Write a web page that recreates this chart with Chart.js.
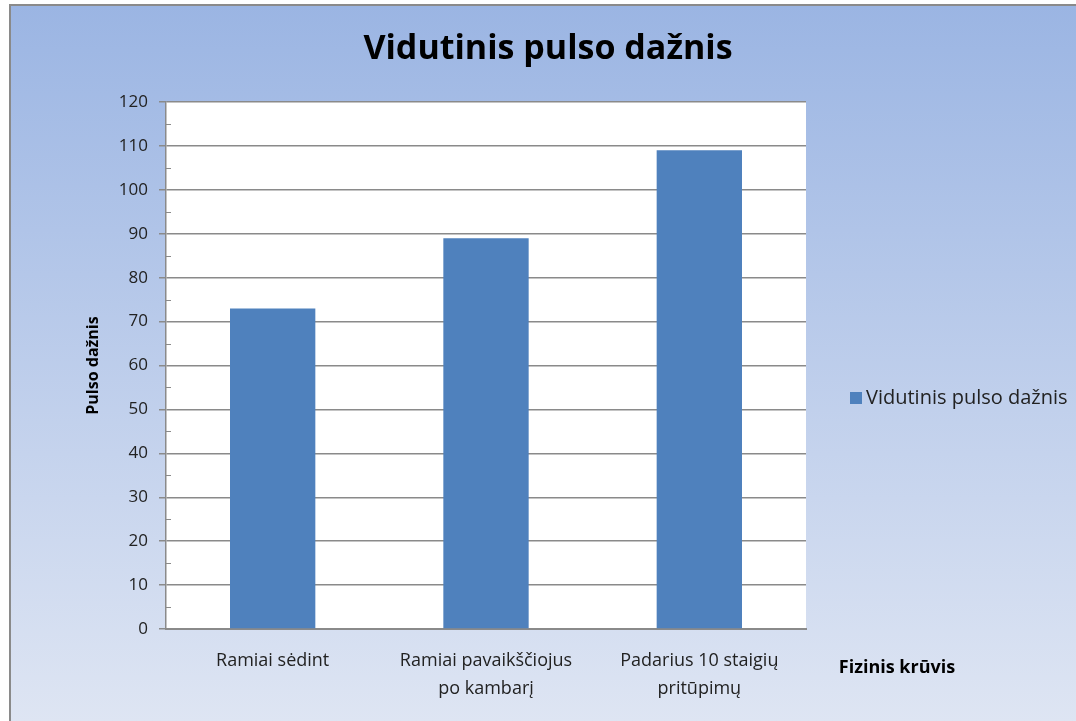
<!DOCTYPE html>
<html>
<head>
<meta charset="utf-8">
<script src="https://cdn.jsdelivr.net/npm/chart.js@4.4.1/dist/chart.umd.min.js"></script>
<style>
  html, body { margin: 0; padding: 0; background: #fff; }
  #wrap { width: 1076px; height: 721px; position: relative; }
</style>
</head>
<body>
<div id="wrap"><canvas id="pulseChart" width="1076" height="721"></canvas></div>
<script>
const chartTitle = 'Vidutinis pulso dažnis';
const seriesName = 'Vidutinis pulso dažnis';
const categories = [
    'Ramiai sėdint',
    ['Ramiai pavaikščiojus', 'po kambarį'],
    ['Padarius 10 staigių', 'pritūpimų']
];
const pulseValues = [73, 89, 109];
const yTitle = 'Pulso dažnis';
const xTitle = 'Fizinis krūvis';
const yMin = 0, yMax = 120, yMajor = 10, yMinor = 5;

const FONT = '"Open Sans", Lato, sans-serif';
const barColor = '#4f81bd';
const lineColor = '#8a8a8a';

// background frame, title, minor ticks, x title, legend
const decor = {
    id: 'decor',
    beforeDraw(chart) {
        const ctx = chart.ctx;
        const w = chart.width, h = chart.height;
        ctx.save();
        ctx.fillStyle = '#fff';
        ctx.fillRect(0, 0, w, h);
        const g = ctx.createLinearGradient(0, 6, 0, h);
        g.addColorStop(0, '#9bb5e3');
        g.addColorStop(1, '#dee5f3');
        ctx.fillStyle = g;
        ctx.fillRect(11, 6, w - 11, h - 6);
        ctx.strokeStyle = '#8a8a8a';
        ctx.lineWidth = 2;
        ctx.beginPath();
        ctx.moveTo(10, h);
        ctx.lineTo(10, 5);
        ctx.lineTo(w, 5);
        ctx.stroke();
        const a = chart.chartArea;
        ctx.fillStyle = '#fff';
        ctx.fillRect(a.left, a.top, a.right - a.left, a.bottom - a.top);
        ctx.restore();
    },
    afterDraw(chart) {
        const ctx = chart.ctx;
        const a = chart.chartArea;
        const y = chart.scales.y;
        ctx.save();
        // minor ticks, inside the plot
        ctx.strokeStyle = lineColor;
        ctx.lineWidth = 1;
        for (let v = yMin + yMinor; v < yMax; v += yMajor) {
            const py = Math.round(y.getPixelForValue(v)) + 0.5;
            ctx.beginPath();
            ctx.moveTo(a.left, py);
            ctx.lineTo(a.left + 5, py);
            ctx.stroke();
        }
        // title
        ctx.fillStyle = '#000';
        ctx.textAlign = 'center';
        ctx.textBaseline = 'middle';
        ctx.font = 'bold 34px ' + FONT;
        ctx.fillText(chartTitle, 548, 49);
        // x axis title
        ctx.font = 'bold 18px ' + FONT;
        ctx.fillText(xTitle, 897, 668);
        // legend
        const ds = chart.data.datasets[0];
        ctx.fillStyle = ds.backgroundColor;
        ctx.fillRect(850, 392, 12, 12);
        ctx.fillStyle = '#222';
        ctx.textAlign = 'left';
        ctx.font = '20px ' + FONT;
        ctx.fillText(ds.label, 866, 398);
        ctx.restore();
    }
};

new Chart(document.getElementById('pulseChart'), {
    type: 'bar',
    data: {
        labels: categories,
        datasets: [{
            label: seriesName,
            data: pulseValues,
            backgroundColor: barColor,
            borderWidth: 0,
            barPercentage: 0.4,
            categoryPercentage: 1
        }]
    },
    options: {
        responsive: false,
        animation: false,
        layout: { padding: { left: 78, top: 102, right: 270, bottom: 0 } },
        plugins: {
            legend: { display: false },
            title: { display: false },
            tooltip: { enabled: false }
        },
        scales: {
            y: {
                min: yMin,
                max: yMax,
                afterFit: s => { s.width = 88; },
                ticks: {
                    stepSize: yMinor,
                    color: '#222',
                    font: { family: FONT, size: 17 },
                    padding: 11,
                    callback: v => (v % yMajor === 0 ? v : '')
                },
                grid: {
                    color: c => (c.tick && c.tick.value % yMajor === 0 ? lineColor : 'rgba(0,0,0,0)'),
                    tickColor: c => (c.tick && c.tick.value % yMajor === 0 ? lineColor : 'rgba(0,0,0,0)'),
                    lineWidth: 1.5,
                    tickLength: 7
                },
                border: { color: lineColor, width: 1.5 },
                title: {
                    display: true,
                    text: yTitle,
                    color: '#000',
                    font: { family: FONT, size: 16, weight: 'bold' },
                    padding: { top: 6, bottom: 0 }
                }
            },
            x: {
                afterFit: s => { s.height = 92; },
                grid: { display: false, drawTicks: false },
                border: { display: true, color: lineColor, width: 2 },
                ticks: {
                    color: '#222',
                    font: { family: FONT, size: 18, lineHeight: 1.55 },
                    padding: 18,
                    maxRotation: 0
                }
            }
        }
    },
    plugins: [decor]
});
</script>
</body>
</html>
